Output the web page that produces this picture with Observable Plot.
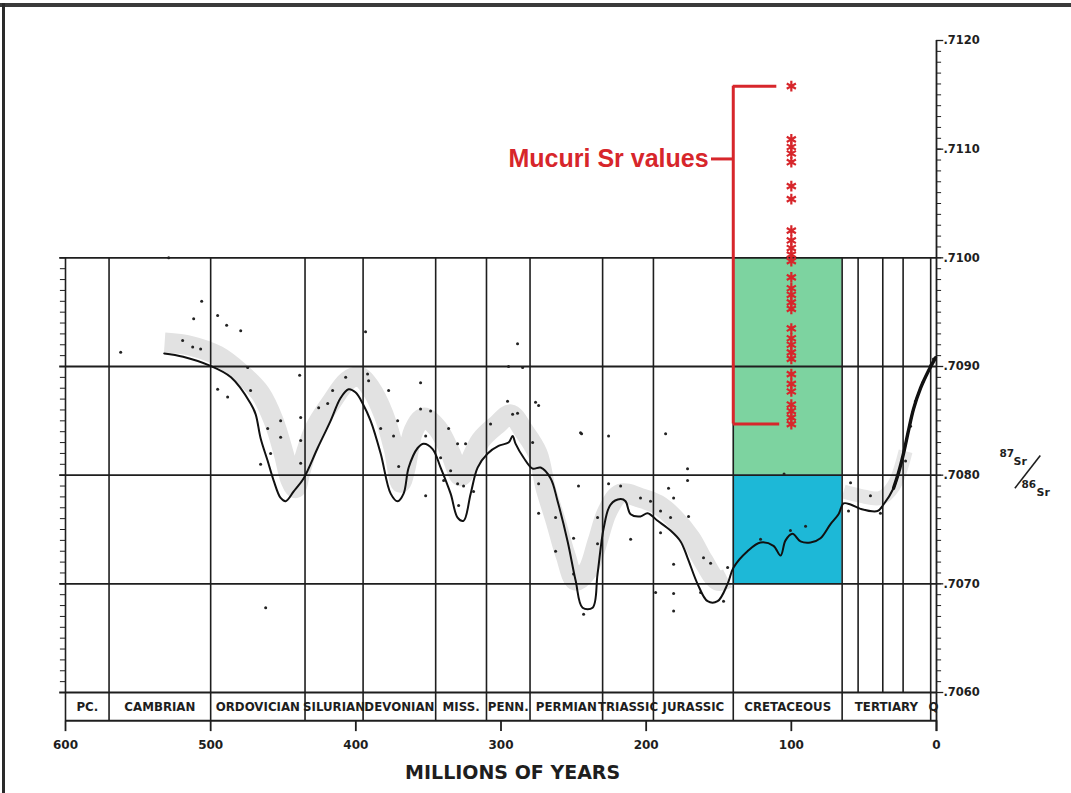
<!DOCTYPE html>
<html><head><meta charset="utf-8">
<script src="https://cdn.jsdelivr.net/npm/d3@7"></script>
<script src="https://cdn.jsdelivr.net/npm/@observablehq/plot@0.6"></script>
<style>
body{margin:0;background:#fff;}
#wrap{position:relative;width:1071px;height:793px;overflow:hidden;background:#fff;}
#wrap svg{position:absolute;left:0;top:0;}
.bt{position:absolute;left:0;top:3px;width:1071px;height:4px;background:#3a3a3a;z-index:2;}
.bl{position:absolute;left:2px;top:3px;width:3px;height:790px;background:#2a2a2a;z-index:2;}
</style></head><body><div id="wrap"><div class="bt"></div><div class="bl"></div></div>
<script>
// ---- data (age in Ma, 87Sr/86Sr) ----
const curve = [
[532,.70912],[519,.70909],[501,.70901],[486,.70890],[472.5,.70866],[469,.70856],[465.6,.70834],[460.7,.70813],
[456.6,.70795],[451.8,.70779],[448.3,.70776],[442.8,.70785],[436,.70797],[426.3,.70825],[417.4,.70850],[410.5,.70871],
[405,.70879],[400.1,.70876],[395.3,.70866],[389.8,.70850],[382.9,.70820],[376,.70783],[371.2,.70776],[367.1,.70783],
[363.6,.70807],[357.4,.70825],[353.3,.70829],[347.1,.70824],[341.6,.70807],[334.7,.70783],[329.9,.70761],[325.8,.70758],
[320.9,.70783],[316.1,.70807],[309.2,.70820],[301.7,.70827],[294.8,.70830],[292,.70836],[290,.70829],[284.4,.70816],
[278.2,.70806],[272.7,.70807],[265.8,.70797],[261,.70776],[254.1,.70739],[248.6,.70703],[243.8,.70678],[236.9,.70678],
[233.5,.70709],[229.3,.70751],[224.5,.70773],[217.6,.70778],[214.2,.70776],[210.7,.70764],[203.9,.70762],[199,.70765],
[192.1,.70758],[183.2,.70749],[176.3,.70739],[171.5,.70724],[164.6,.70700],[157.7,.70684],[150.8,.70684],[143.9,.70700],
[139.8,.70715],[130.2,.70730],[121.2,.70738],[112.3,.70735],[107.4,.70726],[104,.70740],[99.2,.70746],[93.7,.70739],
[86.8,.70738],[79.9,.70742],[73,.70755],[67.5,.70764],[64,.70774],[59.2,.70773],[52.3,.70769],[40.6,.70767],
[36.5,.70773],[29.6,.70788],[26.2,.70802],[22.7,.70820],[19.3,.70841],[15.8,.70861],[11,.70880],[5.5,.70896],[0.7,.70908]
];
const bandPaleo = [
[531.7,.70922],[513.8,.70919],[495.2,.70910],[479.3,.70894],[465.6,.70875],[456.6,.70850],[449.7,.70820],[444.9,.70795],
[441.5,.70788],[438,.70804],[429,.70841],[417.4,.70866],[405.6,.70887],[398,.70891],[389.8,.70880],[380.9,.70856],
[374,.70825],[369.1,.70793],[366,.70805],[360.2,.70841],[353.3,.70853],[343.7,.70843],[334.7,.70820],[327.8,.70799],
[323,.70808],[314,.70832],[302.3,.70847],[293.4,.70856],[284.4,.70841],[274.8,.70820],[269.3,.70788],[262.4,.70758],
[255.5,.70726],[248.6,.70703],[240.4,.70712],[233.5,.70739],[226.6,.70767],[217.6,.70783],[203.9,.70779],[192.1,.70773],
[181.1,.70761],[169.4,.70742],[160.5,.70721],[150.8,.70703],[143.9,.70705]
];
const bandTertiary = [[64,.70785],[52.3,.70781],[38.6,.70779],[29.6,.70790],[21.3,.70822]];
const dots = [
[562,.70913],[528.9,.71000],[506.2,.70960],[511.7,.70944],[495.2,.70947],[489,.70938],[479.3,.70933],[519.3,.70924],
[512.4,.70918],[506.9,.70916],[474.5,.70899],[495.2,.70879],[488.3,.70872],[472.5,.70878],[460.7,.70843],[451.8,.70850],
[451.8,.70835],[465.6,.70810],[458.7,.70820],[438,.70853],[438,.70832],[438,.70811],[425.6,.70862],[419.4,.70866],
[416,.70878],[407,.70890],[393.3,.70932],[391.9,.70893],[391.2,.70887],[438.7,.70892],[377.4,.70878],[382.9,.70843],
[371.2,.70850],[374,.70836],[370.5,.70808],[355.4,.70885],[355.4,.70861],[348.5,.70859],[351.9,.70836],[336.1,.70843],
[341.6,.70816],[329.9,.70829],[324.4,.70829],[351.9,.70781],[329.9,.70792],[325.8,.70790],[339.5,.70795],[334.7,.70804],
[329.2,.70772],[318.9,.70785],[307.2,.70847],[295.5,.70868],[292,.70856],[288.6,.70857],[276.2,.70867],[274.1,.70864],
[278.2,.70830],[274.1,.70792],[274.1,.70765],[262.4,.70761],[250,.70742],[262.4,.70730],[250,.70709],[243.1,.70672],
[245.2,.70839],[225.9,.70836],[246.6,.70790],[233.5,.70761],[233.5,.70737],[225.9,.70792],[217.6,.70790],[210.7,.70741],
[203.9,.70779],[197,.70776],[190.1,.70767],[183.2,.70761],[190.1,.70747],[184.6,.70788],[181.1,.70779],[186.6,.70838],
[171.5,.70806],[171.5,.70795],[170.8,.70762],[160.5,.70724],[155.6,.70719],[181.1,.70718],[181.1,.70691],[181.1,.70675],
[193.5,.70692],[162.5,.70692],[146.7,.70684],[143.9,.70715],[288.6,.70921],[294.8,.70900],[285.1,.70899],[244.5,.70838],
[462.1,.70678],[121.2,.70741],[100.6,.70749],[90.2,.70753],[105,.70801],[59.2,.70793],[60.6,.70767],[45.5,.70781],
[38.6,.70765],[21.3,.70813],[17.9,.70845],[14.5,.70868],[9.6,.70885],[4.1,.70901],[2.1,.70907]
];
const mucuriAge = 100;
const mucuriValues = [.71158,.71109,.71102,.71096,.71088,.71066,.71054,.71025,.71016,.71009,.71003,.70997,.70982,
.70972,.70966,.70959,.70953,.70935,.70926,.70920,.70913,.70907,.70893,.70884,.70877,.70865,.70859,.70853,.70847];
const periodNames = ["PC.","CAMBRIAN","ORDOVICIAN","SILURIAN","DEVONIAN","MISS.","PENN.","PERMIAN","TRIASSIC","JURASSIC","CRETACEOUS","TERTIARY","Q"];
const periodStart = [600,570,500,435,395,345,310,280,230,195,140,65,4];
const periodEnd   = [570,500,435,395,345,310,280,230,195,140,65,4,0];
const epochLines = [54,37,23];
const xTicks = [600,500,400,300,200,100,0];
const yMajor = [.7060,.7070,.7080,.7090,.7100,.7110,.7120];
const gridY = [.7060,.7070,.7080,.7090,.7100];
const cretaceousAges = [140,65];
const greenRange = [.7080,.7100];
const blueRange = [.7070,.7080];

// ---- derived ----
const periods = periodNames.map((n,i)=>({name:n,start:periodStart[i],end:periodEnd[i]}));
const yMinor = d3.range(60,121).map(i=>+(0.7+i/10000).toFixed(4));
const yMinorLeft = yMinor.filter(d=>d<=0.7100);
const mucuri = mucuriValues.map(v=>({age:mucuriAge,v}));
const rowBottom = 0.70574, rowMid = 0.70586, tickEnd = 0.70564;
const red = "#d7262b", ink = "#1e1e1e";
const bold = {fontWeight:"bold", fontFamily:"DejaVu Sans", fill:ink};
const fmt = d=>d3.format(".4f")(d).slice(1);
const mTop = d3.max(mucuriValues), mBot = d3.min(mucuriValues);
const labelY = 0.71091;

const chart = Plot.plot({
  width:1071, height:793, marginLeft:65, marginRight:135, marginTop:40, marginBottom:101,
  x:{domain:[600,0], axis:null},
  y:{domain:[0.7060,0.7120], axis:null},
  style:{background:"transparent", overflow:"visible"},
  marks:[
    Plot.rect([{a:cretaceousAges[0],b:cretaceousAges[1],lo:greenRange[0],hi:greenRange[1]}],{x1:"a",x2:"b",y1:"lo",y2:"hi",fill:"#7dd3a0"}),
    Plot.rect([{a:cretaceousAges[0],b:cretaceousAges[1],lo:blueRange[0],hi:blueRange[1]}],{x1:"a",x2:"b",y1:"lo",y2:"hi",fill:"#1db8d7"}),
    Plot.line(bandPaleo,{x:d=>d[0],y:d=>d[1],stroke:"#e2e2e2",strokeWidth:20,curve:"catmull-rom",strokeLinecap:"butt"}),
    Plot.line(bandTertiary,{x:d=>d[0],y:d=>d[1],stroke:"#e6e6e6",strokeWidth:14,curve:"catmull-rom",strokeLinecap:"butt"}),
    // grid
    Plot.ruleY(gridY,{x1:604,x2:0,stroke:ink,strokeWidth:1.8}),
    Plot.ruleY([rowBottom],{x1:600,x2:0,stroke:ink,strokeWidth:1.8}),
    Plot.ruleX(periodStart,{y1:rowBottom,y2:0.7100,stroke:ink,strokeWidth:1.6}),
    Plot.ruleX(epochLines,{y1:0.7060,y2:0.7100,stroke:ink,strokeWidth:1.6}),
    Plot.ruleX([0],{y1:tickEnd,y2:0.7120,stroke:ink,strokeWidth:1.8}),
    // left ticks
    Plot.ruleY(yMinorLeft,{x1:600,x2:603.5,stroke:ink,strokeWidth:1}),
    // right axis ticks
    Plot.ruleY(yMinor,{x1:0,x2:-3.5,stroke:ink,strokeWidth:1}),
    Plot.ruleY(yMajor,{x1:0,x2:-5,stroke:ink,strokeWidth:1.3}),
    Plot.text(yMajor,{x:0,y:d=>d,text:fmt,dx:7,textAnchor:"start",fontSize:11.5,...bold}),
    // x axis
    Plot.ruleX(xTicks,{y1:rowBottom,y2:tickEnd,stroke:ink,strokeWidth:1.8}),
    Plot.text(xTicks,{x:d=>d,y:0.70552,text:d=>String(d),fontSize:12,...bold}),
    Plot.text(["MILLIONS OF YEARS"],{x:292,y:0.70526,text:d=>d,fontSize:19,...bold}),
    Plot.text(periods,{x:d=>(d.start+d.end)/2,y:rowMid,text:"name",fontSize:11.8,...bold}),
    // data
    Plot.dot(dots,{x:d=>d[0],y:d=>d[1],r:1.5,fill:"#222"}),
    Plot.line(curve,{x:d=>d[0],y:d=>d[1],stroke:"#111",strokeWidth:2,curve:"catmull-rom"}),
    Plot.line(curve.filter(d=>d[0]<=30),{x:d=>d[0],y:d=>d[1],stroke:"#111",strokeWidth:3.4,curve:"catmull-rom"}),
    // Mucuri annotation
    Plot.ruleX([periodStart[10]],{y1:mBot,y2:mTop,stroke:red,strokeWidth:3}),
    Plot.ruleY([mTop],{x1:periodStart[10],x2:mucuriAge+10,stroke:red,strokeWidth:3}),
    Plot.ruleY([mBot],{x1:periodStart[10],x2:mucuriAge+8,stroke:red,strokeWidth:3}),
    Plot.ruleY([labelY],{x1:periodStart[10]+15,x2:periodStart[10],stroke:red,strokeWidth:3}),
    Plot.dot(mucuri,{x:"age",y:"v",symbol:"asterisk",r:5,stroke:red,strokeWidth:2.2}),
    Plot.text(["Mucuri Sr values"],{x:periodStart[10]+17,y:labelY,text:d=>d,textAnchor:"end",fill:red,fontSize:25,fontWeight:"bold",fontFamily:"Liberation Sans"}),
    // ratio label (87Sr / 86Sr), placed to the right of the axis
    Plot.text(["87"],{x:0,y:0.70820,dx:63,text:d=>d,textAnchor:"start",fontSize:10.5,...bold}),
    Plot.text(["Sr"],{x:0,y:0.70813,dx:77,text:d=>d,textAnchor:"start",fontSize:11,...bold}),
    Plot.link([0],{x1:()=>-54,y1:()=>0.70788,x2:()=>-71.5,y2:()=>0.70818,stroke:ink,strokeWidth:1.6}),
    Plot.text(["86"],{x:0,y:0.70791,dx:85,text:d=>d,textAnchor:"start",fontSize:10.5,...bold}),
    Plot.text(["Sr"],{x:0,y:0.70784,dx:100,text:d=>d,textAnchor:"start",fontSize:11,...bold})
  ]
});
document.getElementById("wrap").prepend(chart);
</script></body></html>
